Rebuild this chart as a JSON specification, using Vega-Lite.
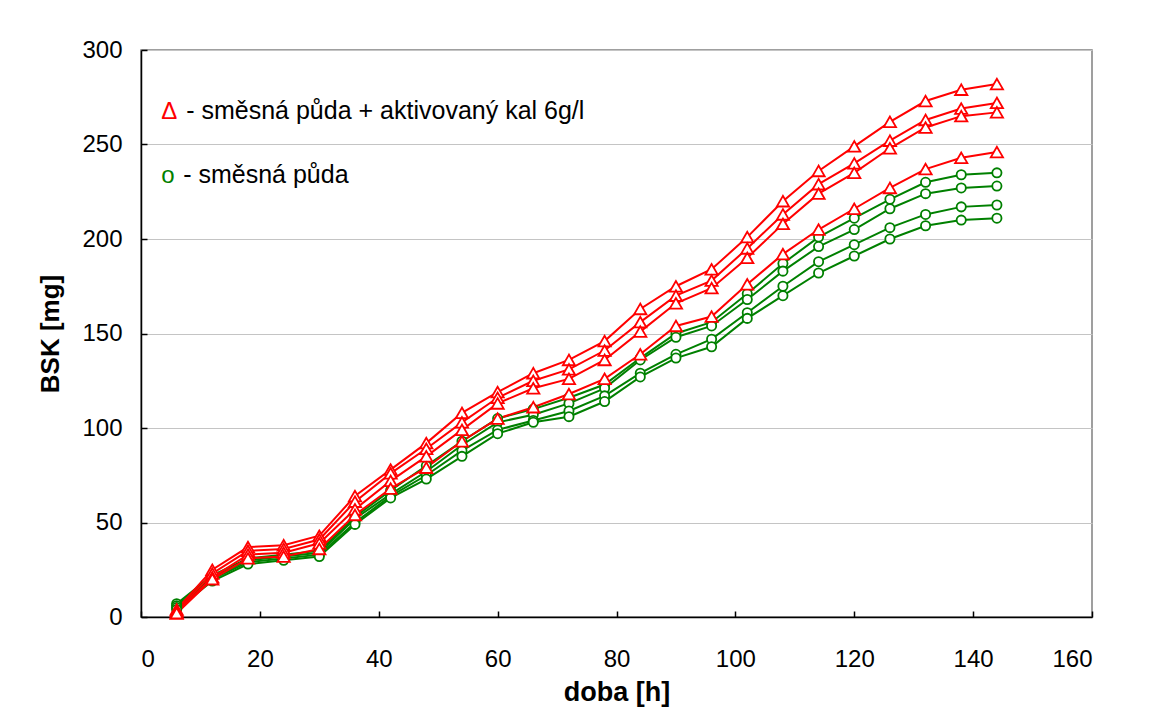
{
  "$schema": "https://vega.github.io/schema/vega-lite/v6.json",
  "width": 951,
  "height": 567,
  "autosize": {"type": "none"},
  "padding": {"left": 141, "top": 50, "right": 65, "bottom": 94},
  "background": "white",
  "config": {
    "font": "Liberation Sans",
    "view": {"stroke": "#808080", "strokeWidth": 1.5},
    "axis": {
      "labelFont": "Liberation Sans",
      "titleFont": "Liberation Sans",
      "labelColor": "black",
      "titleColor": "black",
      "domainColor": "black",
      "tickColor": "black",
      "domainWidth": 1.5,
      "tickWidth": 1.5
    }
  },
  "datasets": {
    "series": [
      {"t":6,"s":"G1","v":7},{"t":12,"s":"G1","v":22},{"t":18,"s":"G1","v":31},{"t":24,"s":"G1","v":33},{"t":30,"s":"G1","v":35},{"t":36,"s":"G1","v":53},{"t":42,"s":"G1","v":67},{"t":48,"s":"G1","v":80},{"t":54,"s":"G1","v":93},{"t":60,"s":"G1","v":105},{"t":66,"s":"G1","v":110},{"t":72,"s":"G1","v":116},{"t":78,"s":"G1","v":123},{"t":84,"s":"G1","v":137},{"t":90,"s":"G1","v":150},{"t":96,"s":"G1","v":156},{"t":102,"s":"G1","v":171},{"t":108,"s":"G1","v":187},{"t":114,"s":"G1","v":201},{"t":120,"s":"G1","v":211},{"t":126,"s":"G1","v":221},{"t":132,"s":"G1","v":230},{"t":138,"s":"G1","v":234},{"t":144,"s":"G1","v":235},
      {"t":6,"s":"G2","v":6},{"t":12,"s":"G2","v":21},{"t":18,"s":"G2","v":30},{"t":24,"s":"G2","v":32},{"t":30,"s":"G2","v":34},{"t":36,"s":"G2","v":52},{"t":42,"s":"G2","v":65},{"t":48,"s":"G2","v":77},{"t":54,"s":"G2","v":91},{"t":60,"s":"G2","v":103},{"t":66,"s":"G2","v":107},{"t":72,"s":"G2","v":113},{"t":78,"s":"G2","v":121},{"t":84,"s":"G2","v":136},{"t":90,"s":"G2","v":148},{"t":96,"s":"G2","v":154},{"t":102,"s":"G2","v":168},{"t":108,"s":"G2","v":183},{"t":114,"s":"G2","v":196},{"t":120,"s":"G2","v":205},{"t":126,"s":"G2","v":216},{"t":132,"s":"G2","v":224},{"t":138,"s":"G2","v":227},{"t":144,"s":"G2","v":228},
      {"t":6,"s":"G3","v":5},{"t":12,"s":"G3","v":20},{"t":18,"s":"G3","v":29},{"t":24,"s":"G3","v":31},{"t":30,"s":"G3","v":33},{"t":36,"s":"G3","v":50},{"t":42,"s":"G3","v":64},{"t":48,"s":"G3","v":75},{"t":54,"s":"G3","v":88},{"t":60,"s":"G3","v":99},{"t":66,"s":"G3","v":104},{"t":72,"s":"G3","v":109},{"t":78,"s":"G3","v":117},{"t":84,"s":"G3","v":129},{"t":90,"s":"G3","v":139},{"t":96,"s":"G3","v":147},{"t":102,"s":"G3","v":161},{"t":108,"s":"G3","v":175},{"t":114,"s":"G3","v":188},{"t":120,"s":"G3","v":197},{"t":126,"s":"G3","v":206},{"t":132,"s":"G3","v":213},{"t":138,"s":"G3","v":217},{"t":144,"s":"G3","v":218},
      {"t":6,"s":"G4","v":4},{"t":12,"s":"G4","v":19},{"t":18,"s":"G4","v":28},{"t":24,"s":"G4","v":30},{"t":30,"s":"G4","v":32},{"t":36,"s":"G4","v":49},{"t":42,"s":"G4","v":63},{"t":48,"s":"G4","v":73},{"t":54,"s":"G4","v":85},{"t":60,"s":"G4","v":97},{"t":66,"s":"G4","v":103},{"t":72,"s":"G4","v":106},{"t":78,"s":"G4","v":114},{"t":84,"s":"G4","v":127},{"t":90,"s":"G4","v":137},{"t":96,"s":"G4","v":143},{"t":102,"s":"G4","v":158},{"t":108,"s":"G4","v":170},{"t":114,"s":"G4","v":182},{"t":120,"s":"G4","v":191},{"t":126,"s":"G4","v":200},{"t":132,"s":"G4","v":207},{"t":138,"s":"G4","v":210},{"t":144,"s":"G4","v":211},
      {"t":6,"s":"R1","v":4},{"t":12,"s":"R1","v":25},{"t":18,"s":"R1","v":37},{"t":24,"s":"R1","v":38},{"t":30,"s":"R1","v":43},{"t":36,"s":"R1","v":64},{"t":42,"s":"R1","v":78},{"t":48,"s":"R1","v":92},{"t":54,"s":"R1","v":108},{"t":60,"s":"R1","v":119},{"t":66,"s":"R1","v":129},{"t":72,"s":"R1","v":136},{"t":78,"s":"R1","v":146},{"t":84,"s":"R1","v":163},{"t":90,"s":"R1","v":175},{"t":96,"s":"R1","v":184},{"t":102,"s":"R1","v":201},{"t":108,"s":"R1","v":220},{"t":114,"s":"R1","v":236},{"t":120,"s":"R1","v":249},{"t":126,"s":"R1","v":262},{"t":132,"s":"R1","v":273},{"t":138,"s":"R1","v":279},{"t":144,"s":"R1","v":282},
      {"t":6,"s":"R2","v":3},{"t":12,"s":"R2","v":23},{"t":18,"s":"R2","v":35},{"t":24,"s":"R2","v":36},{"t":30,"s":"R2","v":41},{"t":36,"s":"R2","v":61},{"t":42,"s":"R2","v":76},{"t":48,"s":"R2","v":89},{"t":54,"s":"R2","v":103},{"t":60,"s":"R2","v":116},{"t":66,"s":"R2","v":125},{"t":72,"s":"R2","v":131},{"t":78,"s":"R2","v":141},{"t":84,"s":"R2","v":156},{"t":90,"s":"R2","v":170},{"t":96,"s":"R2","v":178},{"t":102,"s":"R2","v":195},{"t":108,"s":"R2","v":213},{"t":114,"s":"R2","v":229},{"t":120,"s":"R2","v":240},{"t":126,"s":"R2","v":252},{"t":132,"s":"R2","v":263},{"t":138,"s":"R2","v":269},{"t":144,"s":"R2","v":272},
      {"t":6,"s":"R3","v":2},{"t":12,"s":"R3","v":21},{"t":18,"s":"R3","v":33},{"t":24,"s":"R3","v":34},{"t":30,"s":"R3","v":39},{"t":36,"s":"R3","v":57},{"t":42,"s":"R3","v":72},{"t":48,"s":"R3","v":85},{"t":54,"s":"R3","v":99},{"t":60,"s":"R3","v":113},{"t":66,"s":"R3","v":121},{"t":72,"s":"R3","v":126},{"t":78,"s":"R3","v":136},{"t":84,"s":"R3","v":151},{"t":90,"s":"R3","v":166},{"t":96,"s":"R3","v":174},{"t":102,"s":"R3","v":190},{"t":108,"s":"R3","v":208},{"t":114,"s":"R3","v":224},{"t":120,"s":"R3","v":235},{"t":126,"s":"R3","v":248},{"t":132,"s":"R3","v":259},{"t":138,"s":"R3","v":265},{"t":144,"s":"R3","v":267},
      {"t":6,"s":"R4","v":2},{"t":12,"s":"R4","v":20},{"t":18,"s":"R4","v":31},{"t":24,"s":"R4","v":32},{"t":30,"s":"R4","v":36},{"t":36,"s":"R4","v":54},{"t":42,"s":"R4","v":68},{"t":48,"s":"R4","v":79},{"t":54,"s":"R4","v":93},{"t":60,"s":"R4","v":105},{"t":66,"s":"R4","v":111},{"t":72,"s":"R4","v":118},{"t":78,"s":"R4","v":126},{"t":84,"s":"R4","v":139},{"t":90,"s":"R4","v":154},{"t":96,"s":"R4","v":159},{"t":102,"s":"R4","v":176},{"t":108,"s":"R4","v":192},{"t":114,"s":"R4","v":205},{"t":120,"s":"R4","v":216},{"t":126,"s":"R4","v":227},{"t":132,"s":"R4","v":237},{"t":138,"s":"R4","v":243},{"t":144,"s":"R4","v":246}
    ],
    "legend": [
      {"s": "R1", "sym": "Δ", "label": "- směsná půda + aktivovaný kal 6g/l", "x": 3.4, "y": 263.5},
      {"s": "G1", "sym": "o", "label": "- směsná půda", "x": 3.4, "y": 229.6}
    ]
  },
  "layer": [
    {
      "data": {"name": "series"},
      "mark": {"type": "line", "strokeWidth": 2, "clip": false},
      "encoding": {
        "x": {
          "field": "t", "type": "quantitative",
          "scale": {"domain": [0, 160], "nice": false},
          "axis": {
            "title": "doba [h]", "values": [0,20,40,60,80,100,120,140,160],
            "grid": false, "tickSize": -6, "labelFontSize": 24, "labelPadding": 36,
            "titleFontSize": 27, "titleFontWeight": "bold", "titlePadding": 8
          }
        },
        "y": {
          "field": "v", "type": "quantitative",
          "scale": {"domain": [0, 300], "nice": false},
          "axis": {
            "title": "BSK [mg]", "values": [0,50,100,150,200,250,300],
            "grid": true, "gridColor": "#c4c4c4", "gridWidth": 1,
            "tickSize": -6, "labelFontSize": 24, "labelPadding": 25,
            "titleFontSize": 26, "titleFontWeight": "bold", "titlePadding": 18
          }
        },
        "color": {
          "field": "s", "type": "nominal",
          "scale": {"domain": ["G1","G2","G3","G4","R1","R2","R3","R4"], "range": ["#008000","#008000","#008000","#008000","#ff0000","#ff0000","#ff0000","#ff0000"]},
          "legend": null
        },
        "detail": {"field": "s"}
      }
    },
    {
      "data": {"name": "series"},
      "mark": {"type": "point", "filled": true, "fill": "white", "strokeWidth": 1.8, "opacity": 1},
      "encoding": {
        "x": {"field": "t", "type": "quantitative"},
        "y": {"field": "v", "type": "quantitative"},
        "stroke": {
          "field": "s", "type": "nominal",
          "scale": {"domain": ["G1","G2","G3","G4","R1","R2","R3","R4"], "range": ["#008000","#008000","#008000","#008000","#ff0000","#ff0000","#ff0000","#ff0000"]},
          "legend": null
        },
        "shape": {
          "field": "s", "type": "nominal",
          "scale": {"domain": ["G1","G2","G3","G4","R1","R2","R3","R4"], "range": ["circle","circle","circle","circle","triangle-up","triangle-up","triangle-up","triangle-up"]},
          "legend": null
        },
        "size": {
          "field": "s", "type": "nominal",
          "scale": {"type": "ordinal", "domain": ["G1","G2","G3","G4","R1","R2","R3","R4"], "range": [85,85,85,85,150,150,150,150]},
          "legend": null
        }
      }
    },
    {
      "data": {"name": "legend"},
      "mark": {"type": "text", "align": "left", "baseline": "alphabetic", "fontSize": 24},
      "encoding": {
        "x": {"field": "x", "type": "quantitative"},
        "y": {"field": "y", "type": "quantitative"},
        "text": {"field": "sym"},
        "color": {"field": "s", "type": "nominal"}
      }
    },
    {
      "data": {"name": "legend"},
      "transform": [{"filter": "datum.s === 'R1'"}],
      "mark": {"type": "text", "align": "left", "baseline": "alphabetic", "fontSize": 25, "dx": 25, "color": "black"},
      "encoding": {
        "x": {"field": "x", "type": "quantitative"},
        "y": {"field": "y", "type": "quantitative"},
        "text": {"field": "label"}
      }
    },
    {
      "data": {"name": "legend"},
      "transform": [{"filter": "datum.s === 'G1'"}],
      "mark": {"type": "text", "align": "left", "baseline": "alphabetic", "fontSize": 25, "dx": 22, "color": "black"},
      "encoding": {
        "x": {"field": "x", "type": "quantitative"},
        "y": {"field": "y", "type": "quantitative"},
        "text": {"field": "label"}
      }
    }
  ]
}
